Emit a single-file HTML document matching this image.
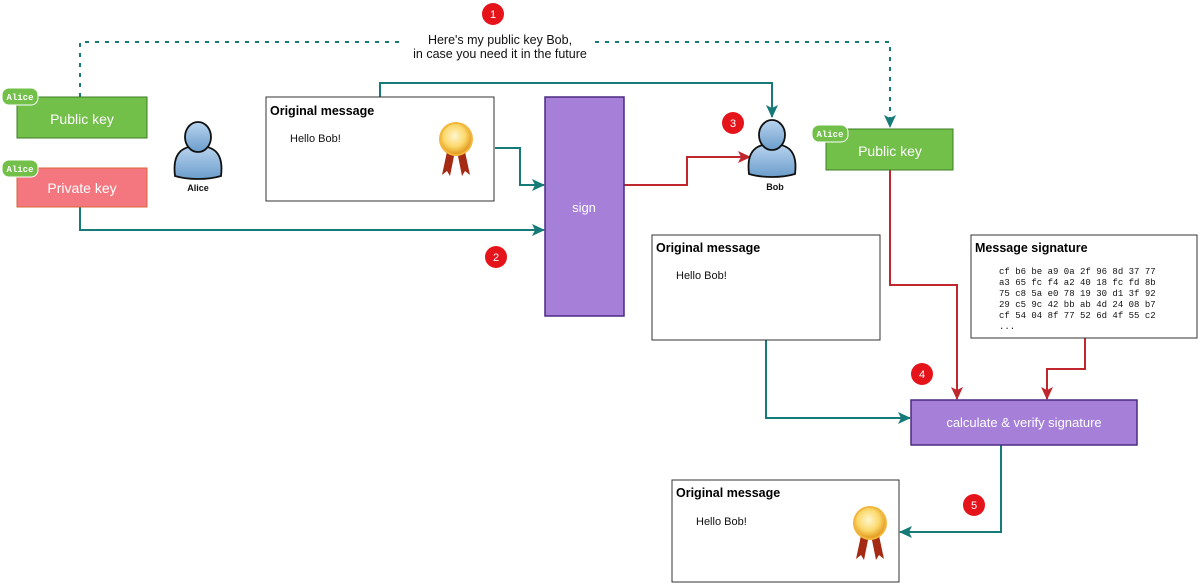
<!DOCTYPE html>
<html><head><meta charset="utf-8"><style>
html,body{margin:0;padding:0;background:#fff;}
svg{display:block;font-family:"Liberation Sans",Helvetica,sans-serif;}
</style></head><body>
<svg width="1200" height="585" viewBox="0 0 1200 585" xmlns="http://www.w3.org/2000/svg">
<defs>
<radialGradient id="med" cx="0.45" cy="0.4" r="0.6"><stop offset="0" stop-color="#fff6d0"/><stop offset="0.6" stop-color="#fbd86b"/><stop offset="1" stop-color="#e39a1f"/></radialGradient>
<linearGradient id="per" x1="0" y1="0" x2="0" y2="1"><stop offset="0" stop-color="#b9d4ee"/><stop offset="1" stop-color="#6b9dcc"/></linearGradient>
<marker id="at" markerWidth="13" markerHeight="12" refX="12" refY="6" orient="auto" markerUnits="userSpaceOnUse"><path d="M0,0 L13,6 L0,12 L3,6 Z" fill="#167a78"/></marker>
<marker id="ar" markerWidth="13" markerHeight="12" refX="12" refY="6" orient="auto" markerUnits="userSpaceOnUse"><path d="M0,0 L13,6 L0,12 L3,6 Z" fill="#c0262e"/></marker>
<g id="person">
<path d="M-23,24 C-26,0 -15,-6 0,-6 C15,-6 26,0 23,24 C10,28 -10,28 -23,24 Z" fill="url(#per)" stroke="#111" stroke-width="1.8"/>
<ellipse cx="0" cy="-15" rx="13" ry="15" fill="url(#per)" stroke="#111" stroke-width="1.8"/>
</g>
<g id="ribbon">
<path d="M-8,8 L-14,36 L-9,32 L-6,37 L-1,12 Z" fill="#a52a14"/>
<path d="M8,8 L14,36 L9,32 L6,37 L1,12 Z" fill="#a52a14"/>
<circle cx="0" cy="0" r="17" fill="#f2b63a"/>
<circle cx="0" cy="0" r="15" fill="url(#med)"/>
</g>
</defs>

<path d="M80,97 V42 H890 V127" fill="none" stroke="#167a78" stroke-width="2" stroke-dasharray="4,6" marker-end="url(#at)"/>
<path d="M380,97 V83 H772 V117" fill="none" stroke="#167a78" stroke-width="2" marker-end="url(#at)"/>
<path d="M495,148 H520 V185 H544" fill="none" stroke="#167a78" stroke-width="2" marker-end="url(#at)"/>
<path d="M80,207 V230 H544" fill="none" stroke="#167a78" stroke-width="2" marker-end="url(#at)"/>
<path d="M624,185 H687 V157 H750" fill="none" stroke="#c0262e" stroke-width="2" marker-end="url(#ar)"/>
<path d="M890,170 V285 H957 V399" fill="none" stroke="#c0262e" stroke-width="2" marker-end="url(#ar)"/>
<path d="M1085,338 V369 H1047 V399" fill="none" stroke="#c0262e" stroke-width="2" marker-end="url(#ar)"/>
<path d="M766,340 V418 H910" fill="none" stroke="#167a78" stroke-width="2" marker-end="url(#at)"/>
<path d="M1001,445 V532 H900" fill="none" stroke="#167a78" stroke-width="2" marker-end="url(#at)"/>

<rect x="405" y="32" width="190" height="30" fill="#fff"/>
<text x="500" y="44" font-size="12.5" text-anchor="middle" fill="#111">Here's my public key Bob,</text>
<text x="500" y="58" font-size="12.5" text-anchor="middle" fill="#111">in case you need it in the future</text>

<rect x="17" y="97" width="130" height="41" fill="#72bf4a" stroke="#3e7d25" stroke-width="1"/>
<text x="82" y="124" font-size="14" fill="#fff" text-anchor="middle">Public key</text>
<rect x="2" y="88" width="36" height="17" rx="7" fill="#72bf4a" stroke="#fff" stroke-width="1"/>
<text x="20" y="100" font-size="9" font-weight="bold" font-family="Liberation Mono,monospace" fill="#fff" text-anchor="middle">Alice</text>

<rect x="17" y="168" width="130" height="39" fill="#f4777f" stroke="#d9673a" stroke-width="1"/>
<text x="82" y="193" font-size="14" fill="#fff" text-anchor="middle">Private key</text>
<rect x="2" y="160" width="36" height="17" rx="7" fill="#72bf4a" stroke="#fff" stroke-width="1"/>
<text x="20" y="172" font-size="9" font-weight="bold" font-family="Liberation Mono,monospace" fill="#fff" text-anchor="middle">Alice</text>

<use href="#person" x="198" y="152"/>
<text x="198" y="191" font-size="9" font-weight="bold" text-anchor="middle" fill="#111">Alice</text>

<rect x="266" y="97" width="228" height="104" fill="#fff" stroke="#333" stroke-width="1"/>
<text x="270" y="115" font-size="12.5" font-weight="bold" fill="#000">Original message</text>
<text x="290" y="142" font-size="11" fill="#111">Hello Bob!</text>
<use href="#ribbon" x="456" y="139"/>

<rect x="545" y="97" width="79" height="219" fill="#a57fd8" stroke="#4b2a82" stroke-width="1.5"/>
<text x="584" y="212" font-size="13" fill="#fff" text-anchor="middle">sign</text>

<use href="#person" x="772" y="150"/>
<text x="775" y="190" font-size="9" font-weight="bold" text-anchor="middle" fill="#111">Bob</text>

<rect x="826" y="129" width="127" height="41" fill="#72bf4a" stroke="#3e7d25" stroke-width="1"/>
<text x="890" y="156" font-size="14" fill="#fff" text-anchor="middle">Public key</text>
<rect x="812" y="125" width="36" height="17" rx="7" fill="#72bf4a" stroke="#fff" stroke-width="1"/>
<text x="830" y="137" font-size="9" font-weight="bold" font-family="Liberation Mono,monospace" fill="#fff" text-anchor="middle">Alice</text>

<rect x="652" y="235" width="228" height="105" fill="#fff" stroke="#333" stroke-width="1"/>
<text x="656" y="252" font-size="12.5" font-weight="bold" fill="#000">Original message</text>
<text x="676" y="279" font-size="11" fill="#111">Hello Bob!</text>

<rect x="971" y="235" width="226" height="103" fill="#fff" stroke="#333" stroke-width="1"/>
<text x="975" y="252" font-size="12.5" font-weight="bold" fill="#000">Message signature</text>
<g font-family="Liberation Mono,monospace" font-size="9" fill="#111">
<text x="999" y="274">cf b6 be a9 0a 2f 96 8d 37 77</text>
<text x="999" y="285">a3 65 fc f4 a2 40 18 fc fd 8b</text>
<text x="999" y="296">75 c8 5a e0 78 19 30 d1 3f 92</text>
<text x="999" y="307">29 c5 9c 42 bb ab 4d 24 08 b7</text>
<text x="999" y="318">cf 54 04 8f 77 52 6d 4f 55 c2</text>
<text x="999" y="329">...</text>
</g>

<rect x="911" y="400" width="226" height="45" fill="#a57fd8" stroke="#4b2a82" stroke-width="1.5"/>
<text x="1024" y="427" font-size="13" fill="#fff" text-anchor="middle">calculate &amp; verify signature</text>

<rect x="672" y="480" width="227" height="102" fill="#fff" stroke="#333" stroke-width="1"/>
<text x="676" y="497" font-size="12.5" font-weight="bold" fill="#000">Original message</text>
<text x="696" y="525" font-size="11" fill="#111">Hello Bob!</text>
<use href="#ribbon" x="870" y="523"/>

<g font-size="11" fill="#fff" text-anchor="middle">
<circle cx="493" cy="14" r="11" fill="#e5141b"/><text x="493" y="18">1</text>
<circle cx="496" cy="257" r="11" fill="#e5141b"/><text x="496" y="261">2</text>
<circle cx="733" cy="123" r="11" fill="#e5141b"/><text x="733" y="127">3</text>
<circle cx="922" cy="374" r="11" fill="#e5141b"/><text x="922" y="378">4</text>
<circle cx="974" cy="505" r="11" fill="#e5141b"/><text x="974" y="509">5</text>
</g>
</svg>
</body></html>
